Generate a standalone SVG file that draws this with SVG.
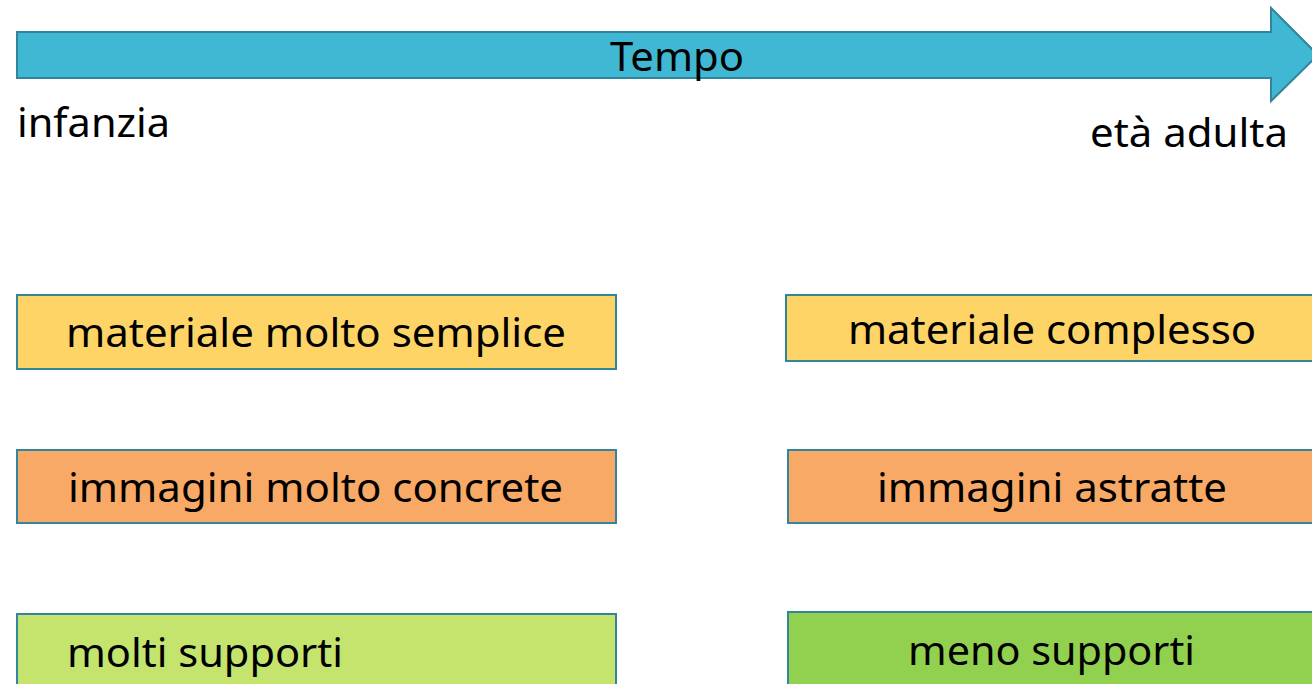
<svg xmlns="http://www.w3.org/2000/svg" width="1312" height="684" viewBox="0 0 1312 684">
<style>
.t{font-family:"Noto Sans","Open Sans",sans-serif;font-size:40px;fill:#000}
.box{stroke:#31859C;stroke-width:2}
.y{fill:#FED466}
.o{fill:#F8A965}
.lg{fill:#C4E46E}
.g{fill:#92D050}
</style>
<rect width="1312" height="684" fill="#fff"/>
<g id="timeline">
<path d="M17,32 L1271,32 L1271,8 L1318,55 L1271,101 L1271,78 L17,78 Z" fill="#41B8D3" stroke="#31859C" stroke-width="2"/>
<text class="t" x="677" y="71" text-anchor="middle" textLength="134" lengthAdjust="spacingAndGlyphs">Tempo</text>
</g>
<g id="infanzia"><text class="t" x="17" y="137" textLength="153" lengthAdjust="spacingAndGlyphs">infanzia</text></g>
<g id="eta-adulta"><text class="t" x="1090" y="147" textLength="198" lengthAdjust="spacingAndGlyphs">età adulta</text></g>
<g id="materiale-semplice">
<rect class="box y" x="17" y="295" width="599" height="74"/>
<text class="t" x="66" y="347" textLength="500" lengthAdjust="spacingAndGlyphs">materiale molto semplice</text>
</g>
<g id="materiale-complesso">
<rect class="box y" x="786" y="295" width="530" height="66"/>
<text class="t" x="848" y="344" textLength="408" lengthAdjust="spacingAndGlyphs">materiale complesso</text>
</g>
<g id="immagini-concrete">
<rect class="box o" x="17" y="450" width="599" height="73"/>
<text class="t" x="68" y="502" textLength="495" lengthAdjust="spacingAndGlyphs">immagini molto concrete</text>
</g>
<g id="immagini-astratte">
<rect class="box o" x="788" y="450" width="528" height="73"/>
<text class="t" x="877" y="502" textLength="350" lengthAdjust="spacingAndGlyphs">immagini astratte</text>
</g>
<g id="molti-supporti">
<rect class="box lg" x="17" y="614" width="599" height="80"/>
<text class="t" x="67" y="667" textLength="276" lengthAdjust="spacingAndGlyphs">molti supporti</text>
</g>
<g id="meno-supporti">
<rect class="box g" x="788" y="612" width="528" height="82"/>
<text class="t" x="908" y="665" textLength="287" lengthAdjust="spacingAndGlyphs">meno supporti</text>
</g>
<g id="connectors"></g>
</svg>
